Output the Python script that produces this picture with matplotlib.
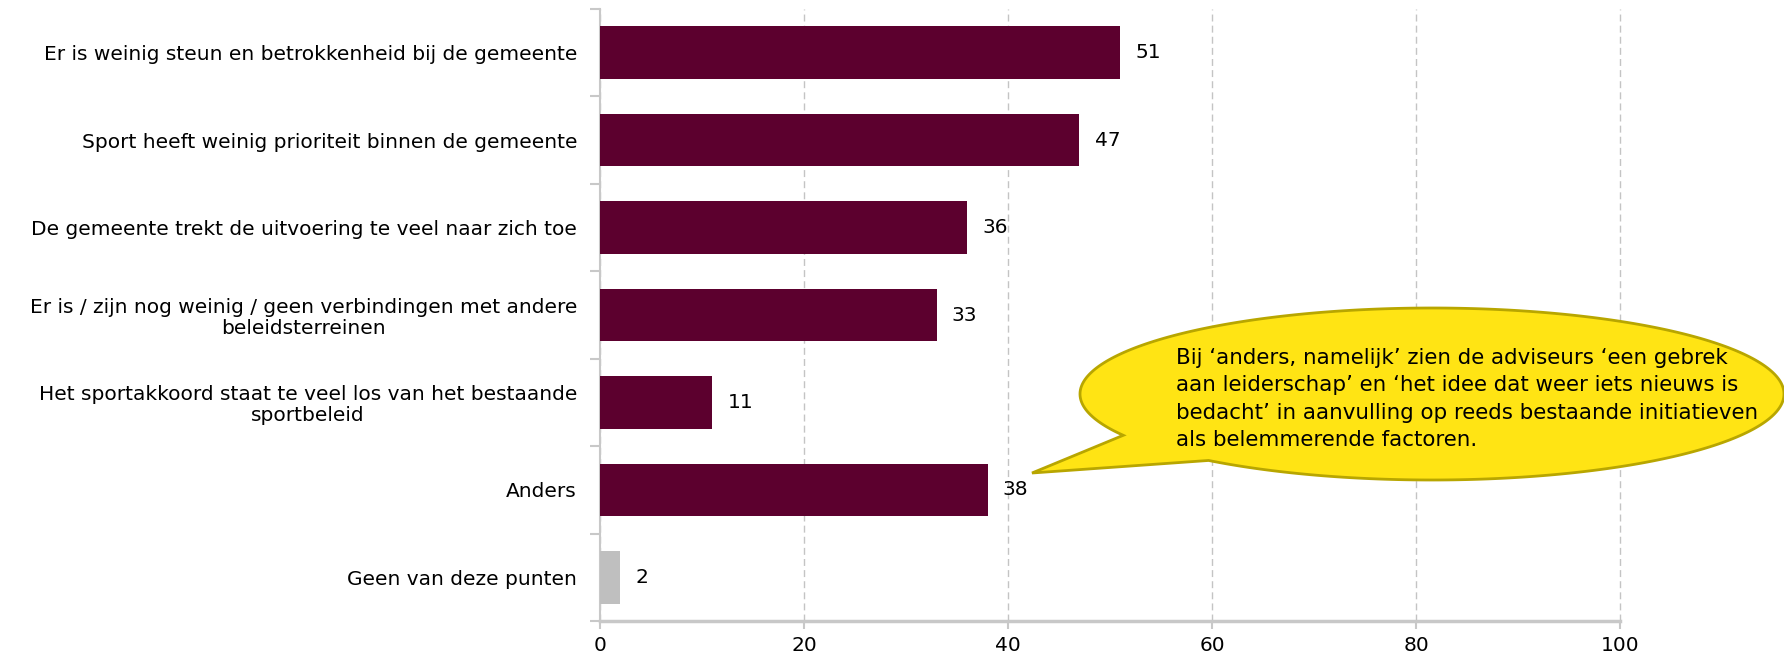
import numpy as np
import matplotlib.pyplot as plt
from matplotlib.patches import Polygon

categories = [
    "Er is weinig steun en betrokkenheid bij de gemeente",
    "Sport heeft weinig prioriteit binnen de gemeente",
    "De gemeente trekt de uitvoering te veel naar zich toe",
    "Er is / zijn nog weinig / geen verbindingen met andere\nbeleidsterreinen",
    "Het sportakkoord staat te veel los van het bestaande\nsportbeleid",
    "Anders",
    "Geen van deze punten",
]
values = [51, 47, 36, 33, 11, 38, 2]
bar_colors = ["#5c002e"] * 6 + ["#bfbfbf"]
x_ticks = [0, 20, 40, 60, 80, 100]

callout_text = ("Bij \u2018anders, namelijk\u2019 zien de adviseurs \u2018een gebrek\n"
                "aan leiderschap\u2019 en \u2018het idee dat weer iets nieuws is\n"
                "bedacht\u2019 in aanvulling op reeds bestaande initiatieven\n"
                "als belemmerende factoren.")

plt.rcParams['font.family'] = ['DejaVu Sans']
FS = 14.5
FS_NOTE = 15.4
W, H = 1784, 658

fig = plt.figure(figsize=(W / 100, H / 100), dpi=100)
ax = fig.add_axes([600 / W, 37 / H, 1020 / W, 612 / H])

ypos = np.arange(len(categories))
ax.barh(ypos, values, height=0.6, color=bar_colors, zorder=3)
for y, v in zip(ypos, values):
    ax.text(v + 1.5, y, str(v), va='center', ha='left', fontsize=FS, color='black', zorder=4)

ax.set_xlim(0, 100)
ax.set_ylim(len(categories) - 0.5, -0.5)
ax.set_xticks(x_ticks)
ax.set_xticklabels([str(t) for t in x_ticks], fontsize=FS)

ax.set_yticks(ypos)
ax.set_yticklabels(categories, fontsize=FS, multialignment='center', linespacing=1.1)
ax.tick_params(axis='y', length=0, pad=16.5)
ax.set_yticks(np.arange(-0.5, len(categories), 1), minor=True)
ax.tick_params(axis='y', which='minor', length=7, width=1.5, color='#c8c8c8')
ax.tick_params(axis='x', length=6, width=1.5, color='#c8c8c8', pad=5)

ax.grid(axis='x', color='#c4c4c4', linestyle=(0, (5, 3)), linewidth=1, zorder=0)
for gl in ax.get_xgridlines():
    gl.set_clip_on(False)
for side in ['top', 'right']:
    ax.spines[side].set_visible(False)
ax.spines['left'].set_color('#c8c8c8')
ax.spines['left'].set_linewidth(1.5)
ax.spines['bottom'].set_color('#c8c8c8')
ax.spines['bottom'].set_linewidth(2.5)

# speech bubble: ellipse with a tail pointing at the "Anders" bar
cx, cy, a, b = 1432, H - 394, 352, 86
t_start = np.deg2rad(230.6)
t_end = np.deg2rad(208.7 + 360)
t = np.linspace(t_start, t_end, 300)
pts = np.column_stack([cx + a * np.cos(t), cy + b * np.sin(t)])
tip = np.array([[1032, H - 473]])
pts = np.vstack([pts, tip])
pts[:, 0] /= W
pts[:, 1] /= H
bubble = Polygon(pts, closed=True, transform=fig.transFigure, facecolor='#ffe414',
                 edgecolor='#b8a600', linewidth=2, zorder=10, clip_on=False)
fig.patches.append(bubble)

fig.text(1176 / W, 1 - 399 / H, callout_text, ha='left', va='center', fontsize=FS_NOTE,
         linespacing=1.45, color='black', zorder=11)

fig.savefig("out.png", dpi=100)
